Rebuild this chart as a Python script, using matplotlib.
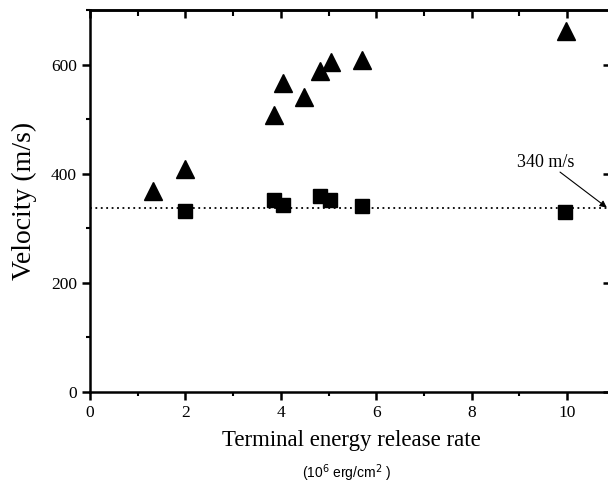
import matplotlib
matplotlib.use("Agg")
import matplotlib.pyplot as plt
from matplotlib.ticker import MultipleLocator

# terminal velocity (triangles) and crack speed (squares)
tri_x = [1.32, 1.99, 3.86, 4.05, 4.49, 4.82, 5.05, 5.70, 9.98]
tri_y = [369, 408, 507, 567, 541, 589, 605, 609, 662]
sq_x = [2.0, 3.86, 4.05, 4.82, 5.03, 5.70, 9.96]
sq_y = [331, 351, 342, 360, 351, 340, 329]
sound_speed = 338

plt.rcParams['font.family'] = ['Liberation Serif', 'DejaVu Serif']

fig = plt.figure(figsize=(6.08, 4.86), dpi=100)
# right spine falls just past the picture edge, as in the scan
ax = fig.add_axes([90 / 608, 94 / 486, 523 / 608, 382 / 486])

ax.axhline(sound_speed, color='black', linestyle=(0, (1, 2)), linewidth=1.3)
ax.plot(tri_x, tri_y, linestyle='none', marker='^', markersize=13, color='black')
ax.plot(sq_x, sq_y, linestyle='none', marker='s', markersize=10, color='black')

ax.text(8.95, 420, '340 m/s', fontsize=13, va='center')
ax.annotate('', xy=(10.83, sound_speed), xytext=(9.85, 403),
            arrowprops=dict(arrowstyle='-|>', color='black', lw=0.8,
                            mutation_scale=10, shrinkA=0, shrinkB=0))

ax.set_xlim(0, 10.96)
ax.set_ylim(0, 700)
ax.xaxis.set_major_locator(MultipleLocator(2))
ax.xaxis.set_minor_locator(MultipleLocator(1))
ax.yaxis.set_major_locator(MultipleLocator(200))
ax.yaxis.set_minor_locator(MultipleLocator(100))

for s in ax.spines.values():
    s.set_linewidth(1.8)

ax.tick_params(axis='both', which='major', direction='out', length=6, width=1.8,
               labelsize=12.5)
ax.tick_params(axis='both', which='minor', direction='out', length=3, width=1.5)

# top and right ticks point inward
top = ax.secondary_xaxis('top')
top.xaxis.set_major_locator(MultipleLocator(2))
top.xaxis.set_minor_locator(MultipleLocator(1))
top.tick_params(which='major', direction='in', length=6, width=1.8, labeltop=False)
top.tick_params(which='minor', direction='in', length=4, width=1.5)
top.spines['top'].set_linewidth(1.8)

right = ax.secondary_yaxis('right')
right.yaxis.set_major_locator(MultipleLocator(200))
right.tick_params(which='major', direction='in', length=7, width=1.8, labelright=False)

ax.set_xlabel('Terminal energy release rate', fontsize=16.5, labelpad=6)
ax.set_ylabel('Velocity (m/s)', fontsize=20, labelpad=10)

fig.text(347 / 608, 1 - 473 / 486, r'(10$^6$ erg/cm$^2$ )', ha='center', va='center',
         fontsize=10, family='Liberation Sans')

fig.savefig('out.png', dpi=100)
